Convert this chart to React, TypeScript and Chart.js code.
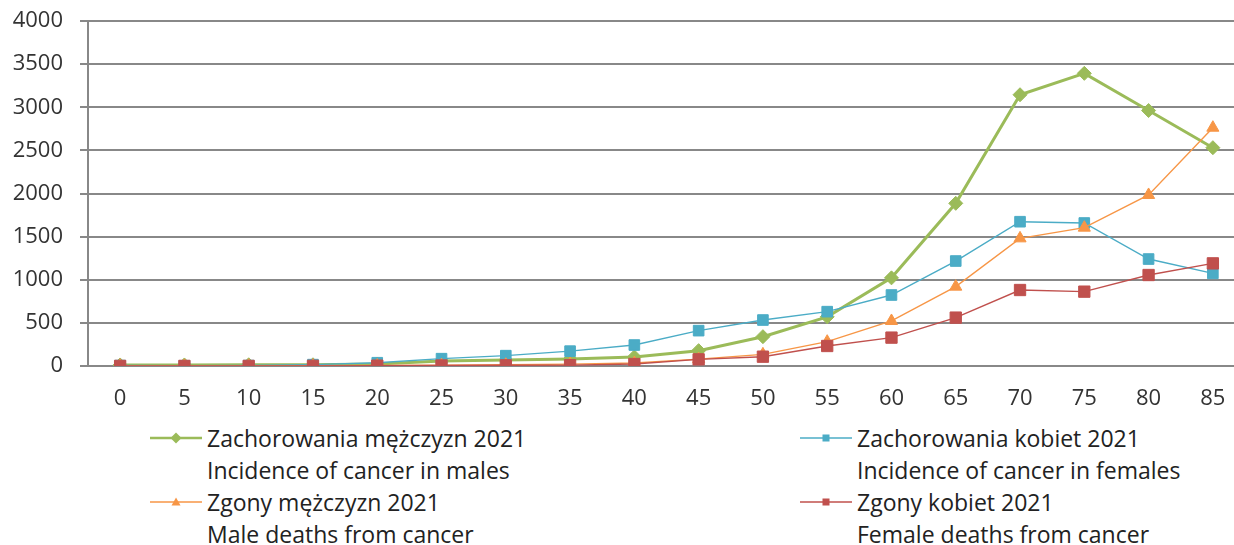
import React, { useEffect, useRef } from "react";
import { Chart, registerables } from "chart.js";

Chart.register(...registerables);

const ageGroups = ["0", "5", "10", "15", "20", "25", "30", "35", "40", "45", "50", "55", "60", "65", "70", "75", "80", "85"];
const maleIncidence = [12, 12, 14, 14, 22, 58, 70, 82, 105, 178, 340, 570, 1022, 1886, 3145, 3393, 2962, 2531];
const femaleIncidence = [5, 3, 5, 16, 38, 85, 120, 172, 243, 410, 533, 630, 823, 1217, 1673, 1658, 1240, 1074];
const maleDeaths = [2, 1, 2, 4, 6, 10, 15, 22, 35, 80, 135, 282, 522, 920, 1480, 1604, 1983, 2763];
const femaleDeaths = [1, 1, 1, 2, 4, 6, 8, 10, 23, 77, 108, 232, 329, 561, 881, 862, 1055, 1190];

const seriesNames = [
  ["Zachorowania mężczyzn 2021", "Incidence of cancer in males"],
  ["Zachorowania kobiet 2021", "Incidence of cancer in females"],
  ["Zgony mężczyzn 2021", "Male deaths from cancer"],
  ["Zgony kobiet 2021", "Female deaths from cancer"],
];

const GREEN = "#9BBB59";
const BLUE = "#4BACC6";
const ORANGE = "#F79646";
const RED = "#C0504D";
const GRID = "#888888";
const FONT = "'Open Sans', 'Liberation Sans', sans-serif";

type Shape = "diamond" | "square" | "triangle";

function LegendMarker({ color, shape, lineWidth }: { color: string; shape: Shape; lineWidth: number }) {
  let mark: React.ReactNode = null;
  if (shape === "diamond") mark = <polygon points="26,10.5 31.5,16 26,21.5 20.5,16" fill={color} />;
  if (shape === "square") mark = <rect x={22.5} y={12.5} width={7} height={7} fill={color} />;
  if (shape === "triangle") mark = <polygon points="26,11.5 30.5,19.5 21.5,19.5" fill={color} />;
  return (
    <svg width={52} height={32} style={{ position: "absolute", left: 0, top: 0 }}>
      <line x1={0} y1={16} x2={52} y2={16} stroke={color} strokeWidth={lineWidth} />
      {mark}
    </svg>
  );
}

function LegendItem({ left, top, color, shape, lineWidth, lines }: { left: number; top: number; color: string; shape: Shape; lineWidth: number; lines: string[] }) {
  return (
    <div style={{ position: "absolute", left, top, height: 64 }}>
      <LegendMarker color={color} shape={shape} lineWidth={lineWidth} />
      <div
        style={{
          position: "absolute",
          left: 57,
          top: 0,
          whiteSpace: "nowrap",
          fontFamily: FONT,
          fontSize: 23,
          lineHeight: "32px",
          color: "#222",
        }}
      >
        <div>{lines[0]}</div>
        <div>{lines[1]}</div>
      </div>
    </div>
  );
}

export default function App() {
  const ref = useRef<HTMLCanvasElement>(null);

  useEffect(() => {
    if (!ref.current) return;
    const tickFont = { family: FONT, size: 22 };
    const chart = new Chart(ref.current, {
      type: "line",
      data: {
        labels: ageGroups,
        datasets: [
          {
            label: seriesNames[0].join(" "),
            data: maleIncidence,
            borderColor: GREEN,
            backgroundColor: GREEN,
            borderWidth: 3,
            pointStyle: "rectRot",
            pointRadius: 7,
            pointBorderWidth: 1,
            pointBorderColor: GREEN,
            pointBackgroundColor: GREEN,
            order: 3,
          },
          {
            label: seriesNames[1].join(" "),
            data: femaleIncidence,
            borderColor: BLUE,
            backgroundColor: BLUE,
            borderWidth: 1.4,
            pointStyle: "rect",
            pointRadius: 7.5,
            pointBorderWidth: 1,
            pointBorderColor: BLUE,
            pointBackgroundColor: BLUE,
            order: 2,
          },
          {
            label: seriesNames[2].join(" "),
            data: maleDeaths,
            borderColor: ORANGE,
            backgroundColor: ORANGE,
            borderWidth: 1.4,
            pointStyle: "triangle",
            pointRadius: 7,
            pointBorderWidth: 1,
            pointBorderColor: ORANGE,
            pointBackgroundColor: ORANGE,
            order: 1,
          },
          {
            label: seriesNames[3].join(" "),
            data: femaleDeaths,
            borderColor: RED,
            backgroundColor: RED,
            borderWidth: 1.4,
            pointStyle: "rect",
            pointRadius: 8,
            pointBorderWidth: 1,
            pointBorderColor: RED,
            pointBackgroundColor: RED,
            order: 0,
          },
        ],
      },
      options: {
        animation: false,
        responsive: false,
        events: [],
        layout: { padding: { top: 21, right: 6, left: 0, bottom: 0 } },
        plugins: {
          legend: { display: false },
          tooltip: { enabled: false },
        },
        scales: {
          x: {
            offset: true,
            grid: { display: false, drawTicks: false },
            border: { display: false },
            ticks: { font: tickFont, color: "#333", padding: 20, maxRotation: 0, autoSkip: false },
            afterFit: (s: any) => {
              s.height = 54;
              s.paddingLeft = 0;
              s.paddingRight = 0;
            },
          },
          y: {
            min: 0,
            max: 4000,
            ticks: {
              stepSize: 500,
              font: tickFont,
              color: "#333",
              padding: 17,
              callback: (v: any) => String(v),
            },
            grid: { color: GRID, lineWidth: 2, tickLength: 8, drawTicks: true, tickColor: GRID },
            border: { display: true, color: GRID, width: 2 },
            afterFit: (s: any) => {
              s.width = 88;
              s.paddingTop = 0;
              s.paddingBottom = 0;
            },
          },
        },
      },
    });
    return () => chart.destroy();
  }, []);

  return (
    <div style={{ position: "fixed", left: 0, top: 0, width: 1234, height: 545, overflow: "hidden", background: "#fff" }}>
      <canvas ref={ref} width={1254} height={420} style={{ display: "block", position: "absolute", left: 0, top: 0 }} />
      <LegendItem left={150} top={422} color={GREEN} shape="diamond" lineWidth={2.5} lines={seriesNames[0]} />
      <LegendItem left={800} top={422} color={BLUE} shape="square" lineWidth={1.4} lines={seriesNames[1]} />
      <LegendItem left={150} top={486} color={ORANGE} shape="triangle" lineWidth={1.4} lines={seriesNames[2]} />
      <LegendItem left={800} top={486} color={RED} shape="square" lineWidth={1.4} lines={seriesNames[3]} />
    </div>
  );
}
